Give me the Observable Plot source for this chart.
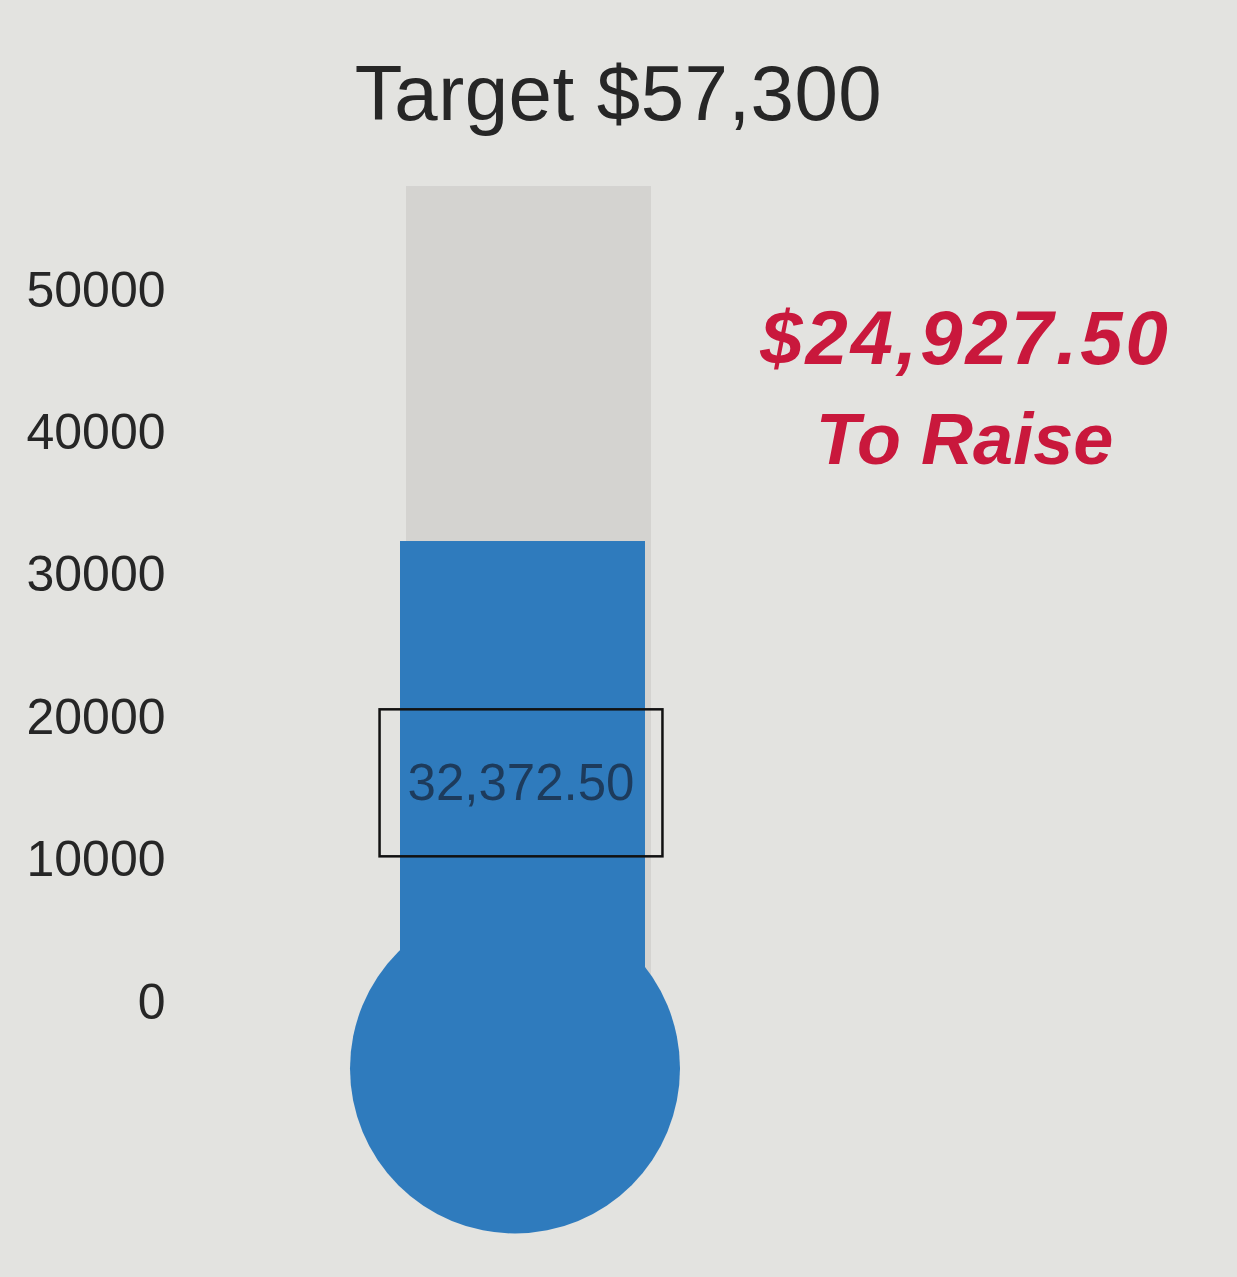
<!DOCTYPE html>
<html>
<head>
<meta charset="utf-8">
<script src="https://cdn.jsdelivr.net/npm/d3@7"></script>
<script src="https://cdn.jsdelivr.net/npm/@observablehq/plot@0.6"></script>
<style>
  html, body { margin: 0; padding: 0; background: #e3e3e0; overflow: hidden; }
  body { font-family: "Liberation Sans", Arial, sans-serif; }
  #title {
    box-sizing: border-box;
    height: 150px;
    padding-top: 54px;
    font-size: 78px;
    line-height: 78px;
    letter-spacing: 0.5px;
    text-align: center;
    color: #262626;
  }
</style>
</head>
<body>
<div id="title"></div>
<div id="chart"></div>
<script>
// Fundraising thermometer: one fund, its target and the amount raised so far
const fund = ["Raised"];
const target = [57300];
const raised = [32372.5];
const yTicks = [0, 10000, 20000, 30000, 40000, 50000];

const rows = fund.map((f, i) => ({fund: f, target: target[i], raised: raised[i]}));

const blue = "#2f7bbd";
const grey = "#d4d3d0";
const red = "#c9183c";

const fmtTarget = d3.format("$,");
const fmtRaised = d3.format(",.2f");
const fmtRemaining = d3.format("$,.2f");

document.getElementById("title").textContent = "Target " + fmtTarget(target[0]);

const chart = Plot.plot({
  width: 1237,
  height: 1127,
  marginTop: 140,
  marginBottom: 275,
  marginLeft: 402,
  marginRight: 590,
  style: {background: "transparent", fontFamily: "Liberation Sans, Arial, sans-serif"},
  x: {domain: fund, padding: 0, axis: null},
  y: {domain: [0, 50000], axis: null},
  marks: [
    // tube (target)
    Plot.barY(rows, {x: "fund", y: "target", fill: grey, dx: 4}),
    // bulb
    Plot.dot(rows, {x: "fund", y: () => 0, r: 165, fill: blue, dx: -10, dy: 66}),
    // mercury (raised)
    Plot.barY(rows, {x: "fund", y: "raised", fill: blue, dx: -2}),
    // value label
    Plot.text(rows, {
      x: "fund",
      y: d => d.raised / 2,
      text: d => fmtRaised(d.raised),
      fontSize: 51,
      fill: "#1d3b5c",
      dx: -4,
      dy: 12
    }),
    // amount still to raise
    Plot.text(rows, {
      text: d => fmtRemaining(d.target - d.raised),
      frameAnchor: "top-right",
      textAnchor: "middle",
      lineAnchor: "top",
      dx: 318,
      dy: 20,
      fontSize: 76,
      fontWeight: "bold",
      fontStyle: "italic",
      fill: red
    }),
    Plot.text(rows, {
      text: () => "To Raise",
      frameAnchor: "top-right",
      textAnchor: "middle",
      lineAnchor: "top",
      dx: 317,
      dy: 122,
      fontSize: 72,
      fontWeight: "bold",
      fontStyle: "italic",
      fill: red
    }),
    Plot.axisY(yTicks, {
      tickSize: 0,
      tickPadding: 237,
      tickFormat: d => String(d),
      fontSize: 50,
      fill: "#262626",
      label: null
    })
  ]
});

document.getElementById("chart").appendChild(chart);

const texts = d3.select(chart).selectAll("text");

// slightly open tracking on the amount still to raise
const remainingText = fmtRemaining(target[0] - raised[0]);
texts.filter(function () { return this.textContent === remainingText; })
  .attr("letter-spacing", "3px");

// bordered box around the value label
const labelText = fmtRaised(raised[0]);
texts.filter(function () { return this.textContent === labelText; })
  .each(function () {
    const b = this.getBBox();
    const padX = 28, padY = 45;
    d3.select(this.parentNode).append("rect")
      .attr("transform", this.getAttribute("transform"))
      .attr("x", b.x - padX)
      .attr("y", b.y - padY)
      .attr("width", b.width + 2 * padX)
      .attr("height", b.height + 2 * padY)
      .attr("fill", "none")
      .attr("stroke", "#111")
      .attr("stroke-width", 2.5);
  });
</script>
</body>
</html>
